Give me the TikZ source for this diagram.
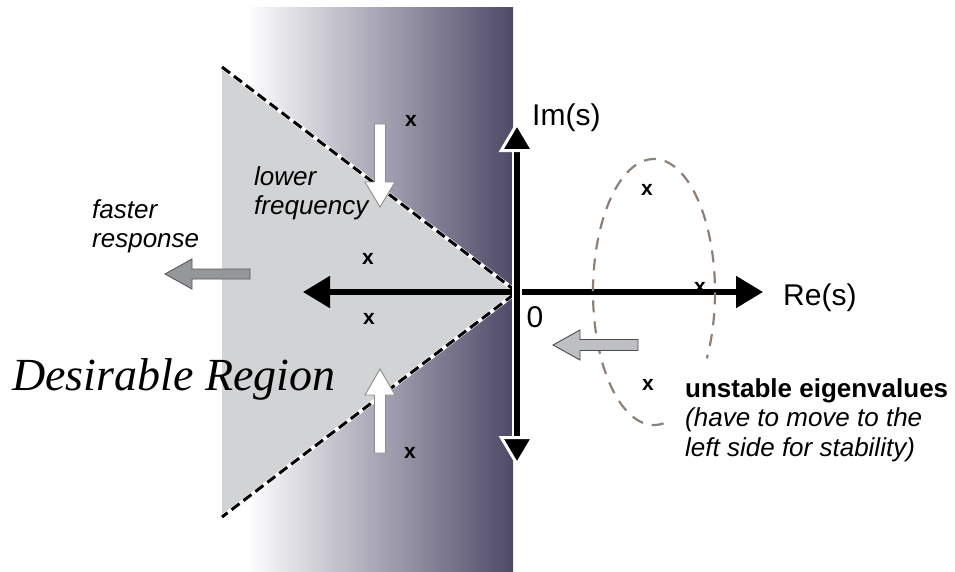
\documentclass[tikz,border=0pt]{standalone}
\usepackage{fontspec}
\setmainfont{Liberation Sans}
\newfontfamily\serifit{Liberation Serif}
\usetikzlibrary{arrows.meta}
\definecolor{darkreg}{RGB}{78,74,104}
\definecolor{trigray}{RGB}{209,211,212}
\definecolor{fastgray}{RGB}{150,151,155}
\definecolor{stabgray}{RGB}{189,191,194}
\definecolor{ellcol}{RGB}{140,128,120}
\begin{document}
\begin{tikzpicture}[x=1pt,y=-1pt,
  axisline/.style={line width=5.2pt},
  xmark/.style={font=\bfseries\fontsize{21}{21}\selectfont, inner sep=0pt},
  itlabel/.style={font=\itshape\fontsize{26}{29}\selectfont, align=left, inner sep=0pt},
  axlabel/.style={font=\fontsize{30}{30}\selectfont, inner sep=0pt},
  whitearrow/.style={fill=white, draw=black!45, line width=0.9pt, line join=miter},
  fastarrow/.style={fill=fastgray, draw=black!65, line width=0.9pt, line join=miter},
  stabarrow/.style={fill=stabgray, draw=black!70, line width=0.9pt, line join=miter},
  boundary/.style={line width=3pt, dash pattern=on 10pt off 5pt},
  ellipsedash/.style={draw=ellcol, line width=2.2pt, dash pattern=on 12pt off 9pt}
]
\useasboundingbox (0,0) rectangle (955,571);
% coordinates
\coordinate (O) at (517,292);
\coordinate (W) at (303,292);
\coordinate (E) at (763,292);
\coordinate (N) at (517,121);
\coordinate (S) at (517,467);
\coordinate (TL) at (222,67);
\coordinate (BL) at (222,517);
% gradient region
\shade[left color=white, right color=darkreg] (246,7) rectangle (513,571);
% desirable triangle
\fill[trigray] (TL) -- (O) -- (BL) -- cycle;
\draw[white, line width=4pt] (TL) -- (O) -- (BL);
\draw[boundary] (TL) -- (O) -- (BL);
% axes
\draw[axisline, {Triangle[length=27pt,width=31pt]}-{Triangle[length=27pt,width=31pt]}] (W) -- (E);
\draw[white, line width=10pt] (517,150) -- (517,440);
\draw[axisline, {Triangle[length=31pt,width=36pt,color=white,fill=black,line width=3pt]}-{Triangle[length=31pt,width=36pt,color=white,fill=black,line width=3pt]}] (S) -- (N);
% ellipse around unstable eigenvalues
\draw[ellipsedash] (654,292) ++(81:61 and 133) arc[start angle=81, end angle=390, x radius=61, y radius=133];
% fat arrows
\draw[whitearrow] (380,207) -- (365,182) -- (374.5,182) -- (374.5,124) -- (385.5,124) -- (385.5,182) -- (395,182) -- cycle;
\draw[whitearrow] (380,369) -- (365,395) -- (374.5,395) -- (374.5,453) -- (385.5,453) -- (385.5,395) -- (395,395) -- cycle;
\draw[fastarrow] (165,274) -- (192,259) -- (192,269) -- (250,269) -- (250,279) -- (192,279) -- (192,289) -- cycle;
\draw[stabarrow] (553,345) -- (580,330) -- (580,339.5) -- (638,339.5) -- (638,350.5) -- (580,350.5) -- (580,360) -- cycle;
% labels
\node[axlabel, anchor=west] (im) at (532,118) {Im(s)};
\node[axlabel, anchor=west] (re) at (783,298) {Re(s)};
\node[axlabel] (zero) at (535,317) {0};
\node[itlabel, anchor=north west] (lowf) at (254,166) {lower\\frequency};
\node[itlabel, anchor=north west] (fast) at (92,199) {faster\\response};
\node[anchor=base west, inner sep=0pt, font=\serifit\itshape\fontsize{46}{46}\selectfont] (des) at (12,390) {Desirable Region};
\node[anchor=north west, inner sep=0pt, align=left, font=\fontsize{26}{29.5}\selectfont] (unst) at (685,378)
  {\textbf{unstable eigenvalues}\\\textit{(have to move to the}\\\textit{left side for stability)}};
% eigenvalue marks
\node[xmark] (x1) at (411,121) {x};
\node[xmark] (x2) at (368,259) {x};
\node[xmark] (x3) at (369,319) {x};
\node[xmark] (x4) at (410,453) {x};
\node[xmark] (x5) at (647,190) {x};
\node[xmark] (x6) at (700,288) {x};
\node[xmark] (x7) at (648,385) {x};
\end{tikzpicture}
\end{document}
